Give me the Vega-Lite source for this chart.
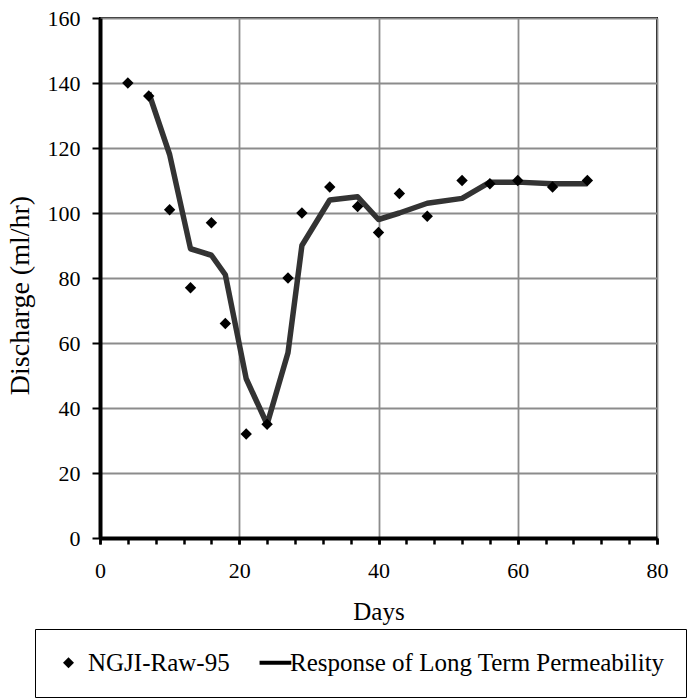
{
  "$schema": "https://vega.github.io/schema/vega-lite/v6.json",
  "autosize": "none",
  "width": 557,
  "height": 520,
  "padding": {"left": 100, "top": 18, "right": 33, "bottom": 160},
  "background": "white",
  "config": {
    "font": "Liberation Serif",
    "view": {"stroke": "black", "strokeWidth": 2},
    "axis": {
      "labelFont": "Liberation Serif",
      "titleFont": "Liberation Serif",
      "labelColor": "black",
      "titleColor": "black",
      "titleFontWeight": "normal",
      "domainColor": "black",
      "domainWidth": 4,
      "tickColor": "black",
      "gridColor": "#8c8c8c",
      "gridWidth": 1.8
    }
  },
  "resolve": {"axis": {"x": "independent"}},
  "datasets": {
    "points": [
      {"day": 4, "discharge": 140, "series": "NGJI-Raw-95"},
      {"day": 7, "discharge": 136, "series": "NGJI-Raw-95"},
      {"day": 10, "discharge": 101, "series": "NGJI-Raw-95"},
      {"day": 13, "discharge": 77, "series": "NGJI-Raw-95"},
      {"day": 16, "discharge": 97, "series": "NGJI-Raw-95"},
      {"day": 18, "discharge": 66, "series": "NGJI-Raw-95"},
      {"day": 21, "discharge": 32, "series": "NGJI-Raw-95"},
      {"day": 24, "discharge": 35, "series": "NGJI-Raw-95"},
      {"day": 27, "discharge": 80, "series": "NGJI-Raw-95"},
      {"day": 29, "discharge": 100, "series": "NGJI-Raw-95"},
      {"day": 33, "discharge": 108, "series": "NGJI-Raw-95"},
      {"day": 37, "discharge": 102, "series": "NGJI-Raw-95"},
      {"day": 40, "discharge": 94, "series": "NGJI-Raw-95"},
      {"day": 43, "discharge": 106, "series": "NGJI-Raw-95"},
      {"day": 47, "discharge": 99, "series": "NGJI-Raw-95"},
      {"day": 52, "discharge": 110, "series": "NGJI-Raw-95"},
      {"day": 56, "discharge": 109, "series": "NGJI-Raw-95"},
      {"day": 60, "discharge": 110, "series": "NGJI-Raw-95"},
      {"day": 65, "discharge": 108, "series": "NGJI-Raw-95"},
      {"day": 70, "discharge": 110, "series": "NGJI-Raw-95"}
    ],
    "response": [
      {"day": 7, "discharge": 137},
      {"day": 10, "discharge": 118},
      {"day": 13, "discharge": 89},
      {"day": 16, "discharge": 87},
      {"day": 18, "discharge": 81},
      {"day": 21, "discharge": 49},
      {"day": 24, "discharge": 35},
      {"day": 27, "discharge": 57},
      {"day": 29, "discharge": 90},
      {"day": 33, "discharge": 104},
      {"day": 37, "discharge": 105},
      {"day": 40, "discharge": 98},
      {"day": 43, "discharge": 100},
      {"day": 47, "discharge": 103},
      {"day": 52, "discharge": 104.5},
      {"day": 56, "discharge": 109.5},
      {"day": 60, "discharge": 109.5},
      {"day": 65, "discharge": 109},
      {"day": 70, "discharge": 109}
    ]
  },
  "layer": [
    {
      "data": {"name": "response"},
      "mark": {"type": "line", "color": "#333333", "strokeWidth": 5.5, "strokeJoin": "round"},
      "encoding": {
        "x": {
          "field": "day", "type": "quantitative",
          "scale": {"domain": [0, 80], "nice": false},
          "axis": {
            "orient": "bottom",
            "title": "Days",
            "values": [0, 20, 40, 60, 80],
            "labelOverlap": false,
            "labelFlush": false,
            "labelFontSize": 22,
            "labelPadding": 16,
            "tickSize": 6,
            "tickWidth": 2.5,
            "titleFontSize": 25,
            "titlePadding": 18,
            "grid": true
          }
        },
        "y": {
          "field": "discharge", "type": "quantitative",
          "scale": {"domain": [0, 160], "nice": false},
          "axis": {
            "title": "Discharge (ml/hr)",
            "values": [0,20,40,60,80,100,120,140,160],
            "labelFontSize": 22,
            "labelPadding": 12,
            "tickSize": 8,
            "tickWidth": 2,
            "titleFontSize": 28,
            "titleX": -66,
            "titleY": 277,
            "titleAlign": "center",
            "titleBaseline": "bottom"
          }
        }
      }
    },
    {
      "data": {"name": "points"},
      "mark": {"type": "point", "filled": true, "color": "black", "size": 130, "opacity": 1},
      "encoding": {
        "x": {
          "field": "day", "type": "quantitative",
          "axis": {
            "orient": "bottom",
            "title": null,
            "values": [0,4,8,12,16,20,24,28,32,36,40,44,48,52,56,60,64,68,72,76,80],
            "labels": false,
            "grid": false,
            "domain": false,
            "ticks": true,
            "tickSize": 6,
            "tickWidth": 2.5,
            "offset": 0
          }
        },
        "y": {"field": "discharge", "type": "quantitative"},
        "shape": {
          "field": "series", "type": "nominal",
          "scale": {
            "domain": ["NGJI-Raw-95", "Response of Long Term Permeability"],
            "range": ["diamond", "M-2.0,-0.38H3.8V0.38H-2.0Z"]
          },
          "legend": {
            "title": null,
            "orient": "none",
            "direction": "horizontal",
            "legendX": -65,
            "legendY": 611,
            "padding": 21,
            "strokeColor": "black",
            "labelFont": "Liberation Serif",
            "labelFontSize": 25,
            "labelColor": "black",
            "labelOffset": 7,
            "labelLimit": 600,
            "columnPadding": 28,
            "symbolSize": 120,
            "symbolFillColor": "black",
            "symbolStrokeWidth": 0,
            "symbolOpacity": 1,
            "encode": {"legend": {"update": {"strokeWidth": {"value": 2}}}}
          }
        }
      }
    }
  ]
}
